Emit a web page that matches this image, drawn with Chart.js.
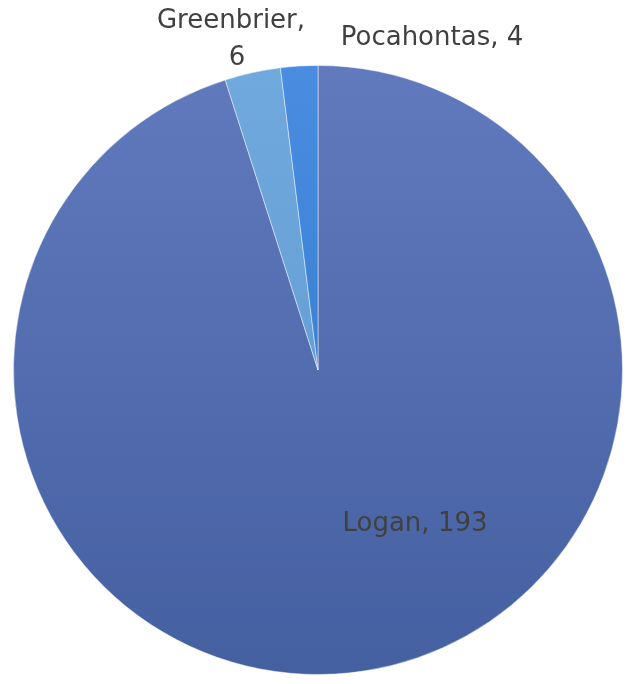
<!DOCTYPE html>
<html>
<head>
<meta charset="utf-8">
<script src="https://cdn.jsdelivr.net/npm/chart.js@4"></script>
<style>
  html, body { margin: 0; padding: 0; background: #fff; }
  #wrap { width: 628px; height: 684px; }
</style>
</head>
<body>
<div id="wrap"><canvas id="chartPie"></canvas></div>
<script>
const categorias = ['Logan', 'Greenbrier', 'Pocahontas'];
const valores = [193, 6, 4];
const coresTopo = ['#607abd', '#70a9dd', '#4a8de0'];
const coresBase = ['#4560a1', '#5b97cf', '#2876ca'];

// posicoes dos rotulos (cada linha centralizada em x)
const rotulos = [
    [{ x: 415, y: 524 }],
    [{ x: 231, y: 21 }, { x: 237, y: 58 }],
    [{ x: 432, y: 38 }]
];

function textoRotulo(i) {
    const t = categorias[i] + ', ' + valores[i];
    // Greenbrier quebra em duas linhas
    return rotulos[i].length > 1 ? [categorias[i] + ',', String(valores[i])] : [t];
}

function gradiente(ctx, i) {
    const area = ctx.chart.chartArea;
    if (!area) return coresTopo[i];
    const g = ctx.chart.ctx.createLinearGradient(0, area.top, 0, area.bottom);
    g.addColorStop(0, coresTopo[i]);
    g.addColorStop(1, coresBase[i]);
    return g;
}

const pluginRotulos = {
    id: 'rotulos',
    afterDatasetsDraw(chart) {
        const c = chart.ctx;
        c.save();
        c.font = '26px "DejaVu Sans", Verdana, sans-serif';
        c.fillStyle = '#404040';
        c.textAlign = 'center';
        c.textBaseline = 'middle';
        categorias.forEach((_, i) => {
            textoRotulo(i).forEach((t, k) => c.fillText(t, rotulos[i][k].x, rotulos[i][k].y));
        });
        c.restore();
    }
};

new Chart(document.getElementById('chartPie').getContext('2d'), {
    type: 'pie',
    data: {
        labels: categorias,
        datasets: [{
            data: valores,
            backgroundColor: ctx => gradiente(ctx, ctx.dataIndex),
            borderColor: 'rgba(255,255,255,0.45)',
            borderWidth: 1
        }]
    },
    options: {
        responsive: true,
        maintainAspectRatio: false,
        animation: false,
        layout: { padding: { left: 13, right: 5, top: 65, bottom: 9 } },
        plugins: { legend: { display: false }, tooltip: { enabled: false } }
    },
    plugins: [pluginRotulos]
});
</script>
</body>
</html>
